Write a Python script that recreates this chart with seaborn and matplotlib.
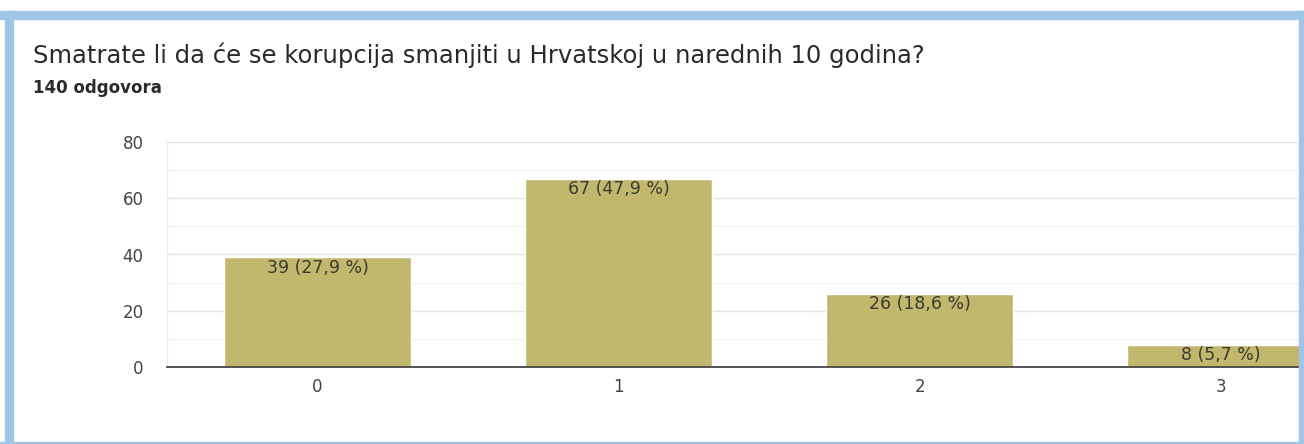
import matplotlib
matplotlib.use("Agg")
import matplotlib.pyplot as plt
import seaborn as sns
import pandas as pd
from matplotlib.patches import Rectangle
from matplotlib.ticker import MultipleLocator

categories = ["0", "1", "2", "3"]
counts = [39, 67, 26, 8]
labels = ["39 (27,9 %)", "67 (47,9 %)", "26 (18,6 %)", "8 (5,7 %)"]
title = "Smatrate li da će se korupcija smanjiti u Hrvatskoj u narednih 10 godina?"
subtitle = "140 odgovora"
yticks = [0, 20, 40, 60, 80]

sns.set_theme(style="white")
plt.rcParams['font.family'] = ['DejaVu Sans']

W, H = 1304, 444
fig = plt.figure(figsize=(W / 100, H / 100), dpi=100)
fig.patch.set_facecolor("white")

border = "#9fc5e8"
# frame
fig.patches.append(Rectangle((0, 1 - 19 / H), 1, 8 / H, transform=fig.transFigure, color=border, zorder=10))
fig.patches.append(Rectangle((5 / W, 0), 8 / W, 1 - 11 / H, transform=fig.transFigure, color=border, zorder=10))
fig.patches.append(Rectangle((1299 / W, 0), 5 / W, 1 - 11 / H, transform=fig.transFigure, color=border, zorder=10))
fig.patches.append(Rectangle((0, 0), 1, 2 / H, transform=fig.transFigure, color=border, zorder=10))

ax = fig.add_axes([167 / W, (H - 367) / H, (1299 - 167) / W, 225 / H])
df = pd.DataFrame({"cat": categories, "n": counts})
sns.barplot(data=df, x="cat", y="n", color="#c1b86e", saturation=1, width=0.62, ax=ax, zorder=3)

ax.set_ylim(0, 80)
ax.set_xlim(-0.5, 3.26)
ax.set_yticks(yticks)
ax.yaxis.set_minor_locator(MultipleLocator(10))
ax.grid(axis="y", which="major", color="#e4e4e4", linewidth=1, zorder=0)
ax.grid(axis="y", which="minor", color="#f1f1f1", linewidth=1, zorder=0)
ax.axvline(-0.5, color="#ececec", linewidth=1, zorder=0)
ax.set_xlabel("")
ax.set_ylabel("")
for s in ["top", "right", "left"]:
    ax.spines[s].set_visible(False)
ax.spines["bottom"].set_color("#444444")
ax.spines["bottom"].set_linewidth(1.3)
ax.spines["bottom"].set_zorder(5)
ax.tick_params(axis="both", which="both", length=0, labelsize=12, colors="#444444")
ax.tick_params(axis="y", pad=17)
ax.tick_params(axis="x", pad=8)

ax.bar_label(ax.containers[0], labels=labels, padding=-14, fontsize=12.5, color="#3a3a30")

fig.text(33 / W, 1 - 55 / H, title, fontsize=17.5, color="#2a2a2a", va="center", ha="left")
fig.text(33 / W, 1 - 88 / H, subtitle, fontsize=12, color="#2a2a2a", va="center", ha="left", weight="semibold")

fig.savefig("out.png", dpi=100)
